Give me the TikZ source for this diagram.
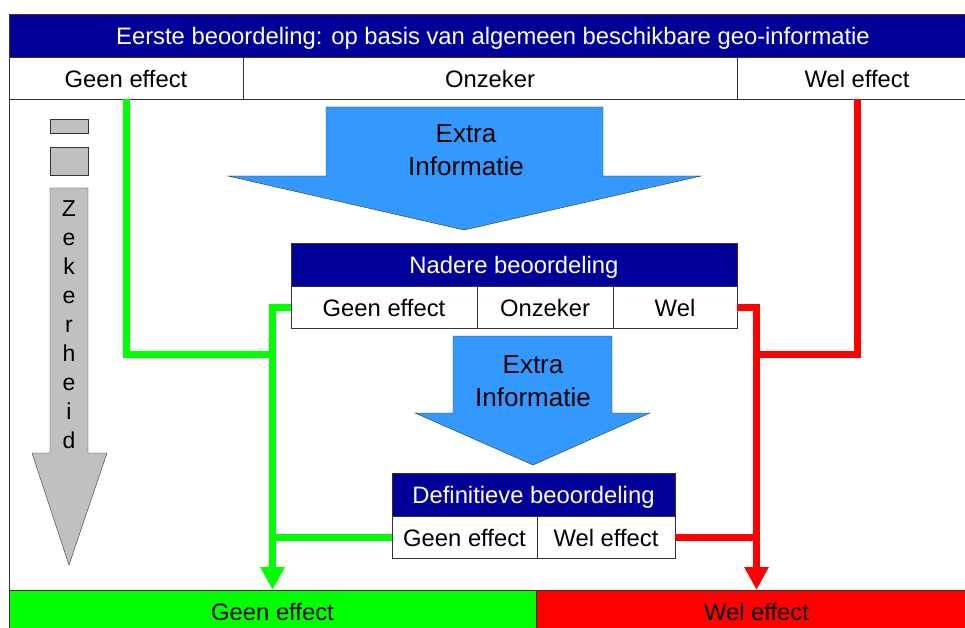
\documentclass[tikz,border=0pt]{standalone}
\usepackage{fontspec}
\setmainfont{Liberation Sans}
\usetikzlibrary{positioning, arrows.meta}

\definecolor{kopblauw}{HTML}{000099}
\definecolor{pijlblauw}{HTML}{3399FF}
\definecolor{groen}{HTML}{00FF00}
\definecolor{rood}{HTML}{FF0000}
\definecolor{rand}{HTML}{333333}
\definecolor{grijs}{HTML}{C0C0C0}

\begin{document}
\begin{tikzpicture}[
    x=1pt, y=-1pt,
    kop/.style={
        draw=rand,
        fill=kopblauw,
        text=white,
        outer sep=0pt,
        inner sep=0pt,
        minimum height=43pt,
        text height=18.6pt,
        text depth=0pt,
        font=\fontsize{23.8}{28}\selectfont
    },
    vak/.style={
        draw=rand,
        fill=white,
        outer sep=0pt,
        inner sep=0pt,
        minimum height=42pt,
        text height=18.6pt,
        text depth=0pt,
        font=\fontsize{23.8}{28}\selectfont
    },
    infopijl/.style={
        draw=rand,
        fill=pijlblauw
    },
    pijltekst/.style={
        align=center,
        font=\fontsize{26}{33}\selectfont
    },
    groenlijn/.style={
        draw=groen,
        line width=7pt
    },
    roodlijn/.style={
        draw=rood,
        line width=7pt
    },
    kop pijl/.style={
        -{Triangle[width=23pt, length=23pt]}
    }
]

\useasboundingbox (0,0) rectangle (965,628);
\clip (0,0) rectangle (965,628);

% Eerste beoordeling
\node[kop, minimum width=968pt, anchor=north west] (eerste) at (9,14)
    {Eerste beoordeling: op basis van algemeen beschikbare geo-informatie};
\node[vak, minimum width=234pt, anchor=north west] (geen1) at (eerste.south west) {Geen effect};
\node[vak, minimum width=494pt, right=0pt of geen1] (onzeker1) {Onzeker};
\node[vak, minimum width=240pt, right=0pt of onzeker1] (wel1) {Wel effect};

% Uitkomst
\node[vak, fill=groen, minimum width=527pt, anchor=north west] (geen4) at (9,590) {Geen effect};
\node[vak, fill=rood, minimum width=441pt, right=0pt of geen4] (wel4) {Wel effect};

% Kader
\draw[rand] (geen1.south west) -- (geen4.north west);
\draw[rand] (wel1.south east) -- (wel4.north east);

% Zekerheid
\draw[rand, fill=grijs] (50,119) rectangle (88,133);
\draw[rand, fill=grijs] (50,147) rectangle (88,175);
\draw[rand, fill=grijs] (50,188) -- (88,188) -- (88,453) -- (107,453)
    -- (69,565) -- (32,453) -- (50,453) -- cycle;
\node[align=center, font=\fontsize{23}{29}\selectfont] (zekerheid) at (69,325)
    {Z\\e\\k\\e\\r\\h\\e\\i\\d};

% Extra informatie
\draw[infopijl] (326,107) -- (603,107) -- (603,176) -- (701,176)
    -- (464,230) -- (228,176) -- (326,176) -- cycle;
\node[pijltekst] (extra1) at (466,150) {Extra\\Informatie};

% Nadere beoordeling
\node[kop, minimum width=446pt, anchor=north west] (nadere) at (291,243) {Nadere beoordeling};
\node[vak, minimum width=186pt, anchor=north west] (geen2) at (nadere.south west) {Geen effect};
\node[vak, minimum width=136pt, right=0pt of geen2] (onzeker2) {Onzeker};
\node[vak, minimum width=124pt, right=0pt of onzeker2] (wel2) {Wel};

% Extra informatie
\draw[infopijl] (453,336) -- (612,336) -- (612,413) -- (650,413)
    -- (533,465) -- (415,413) -- (453,413) -- cycle;
\node[pijltekst] (extra2) at (533,381) {Extra\\Informatie};

% Definitieve beoordeling
\node[kop, minimum width=283pt, anchor=north west] (definitief) at (392,473) {Definitieve beoordeling};
\node[vak, minimum width=145pt, anchor=north west] (geen3) at (definitief.south west) {Geen effect};
\node[vak, minimum width=138pt, right=0pt of geen3] (wel3) {Wel effect};

% Lijnen
\coordinate (groenknik) at (272,354);
\coordinate (roodknik) at (757,354);

\draw[groenlijn] (geen1.south) |- (groenknik);
\draw[groenlijn] (geen3.west) -- (geen3.west -| geen4.north);
\draw[groenlijn, kop pijl] (geen2.west) -| (geen4.north);

\draw[roodlijn] (wel1.south) |- (roodknik);
\draw[roodlijn] (wel3.east) -- (wel3.east -| wel4.north);
\draw[roodlijn, kop pijl] (wel2.east) -| (wel4.north);

\end{tikzpicture}
\end{document}
